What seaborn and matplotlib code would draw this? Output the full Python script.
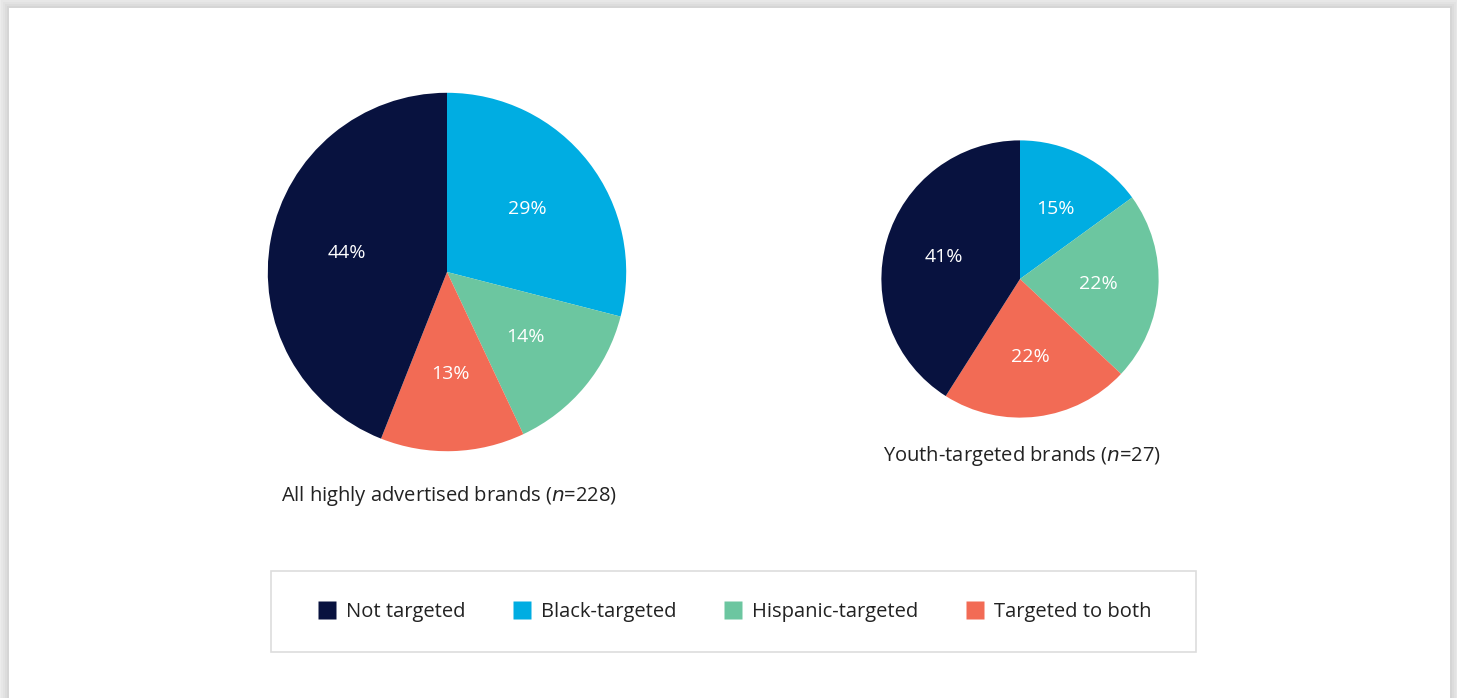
import matplotlib
matplotlib.use("Agg")
import numpy as np
import matplotlib.pyplot as plt
from matplotlib.patches import Rectangle
import seaborn as sns

# Data
categories = ["Not targeted", "Black-targeted", "Hispanic-targeted", "Targeted to both"]
all_brands = [44, 29, 14, 13]
youth_brands = [41, 15, 22, 22]
titles = ["All highly advertised brands", "Youth-targeted brands"]
sample_sizes = [228, 27]

sns.set_theme(style="white")
plt.rcParams["font.family"] = ["Open Sans", "DejaVu Sans"]
palette = sns.color_palette(["#08123f", "#00ade2", "#6cc6a0", "#f26b55"])

W, H = 1457, 698
fig = plt.figure(figsize=(W / 100, H / 100), dpi=100)
fig.patch.set_facecolor("#ececec")

# card with a soft shadow
for i, a in enumerate([0.05, 0.06, 0.08, 0.1]):
    pad = 8 - 2 * i
    fig.patches.append(Rectangle(((9 - pad) / W, 0), (1441 + 2 * pad) / W, (690 + pad) / H,
                                 transform=fig.transFigure, facecolor="#9a9a9a",
                                 alpha=a, edgecolor="none", zorder=-3))
fig.patches.append(Rectangle((9 / W, 0), 1441 / W, 690 / H, transform=fig.transFigure,
                             facecolor="white", edgecolor="none", zorder=-2))


def pie_axes(cx, cy, r):
    ax = fig.add_axes([(cx - r) / W, (H - cy - r) / H, 2 * r / W, 2 * r / H])
    ax.set_zorder(5)
    ax.patch.set_visible(False)
    return ax


def draw_pie(ax, values):
    # drawn clockwise from 12 o'clock: Black, Hispanic, both, Not targeted
    order = [1, 2, 3, 0]
    vals = [values[i] for i in order]
    cols = [palette[i] for i in order]
    wedges, texts = ax.pie(vals, colors=cols, startangle=90, counterclock=False,
                           radius=1, wedgeprops=dict(linewidth=0))
    for w, v in zip(wedges, vals):
        ang = np.deg2rad((w.theta1 + w.theta2) / 2)
        ax.text(0.57 * np.cos(ang), 0.57 * np.sin(ang), f"{v}%", color="white",
                ha="center", va="center", fontsize=14)
    ax.set_xlim(-1.01, 1.01)
    ax.set_ylim(-1.01, 1.01)
    ax.set_aspect("equal")
    ax.axis("off")


ax1 = pie_axes(447, 272, 181)
draw_pie(ax1, all_brands)
ax2 = pie_axes(1020, 279, 140)
draw_pie(ax2, youth_brands)

fig.text(449 / W, 1 - 496 / H, f"{titles[0]} ($\\mathit{{n}}$={sample_sizes[0]})",
         ha="center", va="center", fontsize=14.5, color="#222222", zorder=3)
fig.text(1022 / W, 1 - 456 / H, f"{titles[1]} ($\\mathit{{n}}$={sample_sizes[1]})",
         ha="center", va="center", fontsize=14.5, color="#222222", zorder=3)

# legend box
fig.patches.append(Rectangle((271 / W, 1 - 652 / H), 925 / W, 81 / H, transform=fig.transFigure,
                             facecolor="white", edgecolor="#dddddd", linewidth=1.2, zorder=-1))
handles = [plt.Line2D([], [], marker="s", linestyle="none", markersize=12.5,
                      markerfacecolor=palette[i], markeredgecolor="none") for i in range(4)]
leg = fig.legend(handles, categories, loc="center", bbox_to_anchor=(734 / W, 1 - 612 / H),
                 ncol=4, frameon=False, fontsize=14.5, handletextpad=0.45, columnspacing=2.3,
                 handlelength=1.0)
for t in leg.get_texts():
    t.set_color("#222222")
leg.set_zorder(6)

fig.savefig("out.png", dpi=100, facecolor=fig.get_facecolor())
